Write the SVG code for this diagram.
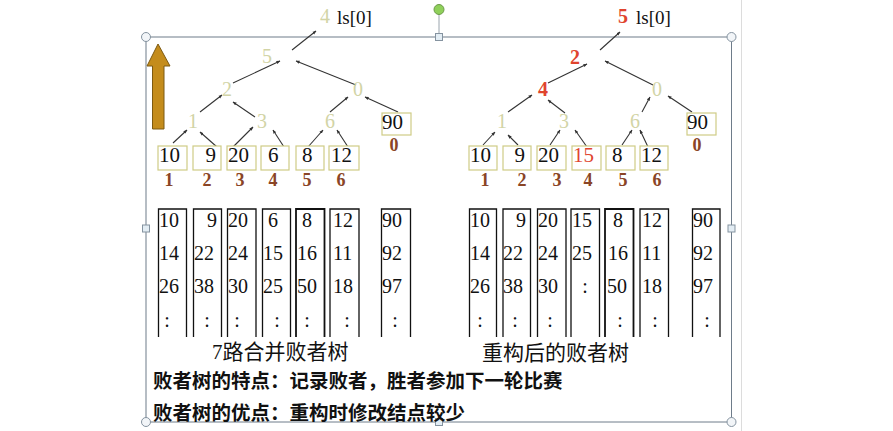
<svg xmlns="http://www.w3.org/2000/svg" width="893" height="431" viewBox="0 0 893 431">
<defs>
<marker id="ah" viewBox="0 0 10 10" refX="9" refY="5" markerWidth="4" markerHeight="4" orient="auto" markerUnits="userSpaceOnUse">
<path d="M0,1 L10,5 L0,9 z" fill="#333"/>
</marker>
<style>
.lt{font-family:"Liberation Serif",serif;font-size:20px;fill:#d2d4a6;text-anchor:middle}
.rd{font-family:"Liberation Serif",serif;font-size:20px;font-weight:bold;fill:#e0442e;text-anchor:middle}
.lb{font-family:"Liberation Serif",serif;font-size:19px;fill:#111}
.lf{font-family:"Liberation Serif",serif;font-size:21px;fill:#111}
.ix{font-family:"Liberation Serif",serif;font-size:18px;font-weight:bold;fill:#8a4526;text-anchor:middle}
.bx{fill:#fff;stroke:#cfcc86;stroke-width:1.2}
.col{fill:none;stroke:#111;stroke-width:1.3}
.ct{font-family:"Liberation Serif",serif;font-size:20px;fill:#111}
.cap{font-family:"Liberation Serif","Noto Sans CJK SC",serif;font-size:21px;fill:#111}
.bt{font-family:"Noto Sans CJK SC",sans-serif;font-size:19.5px;font-weight:bold;fill:#111}
.ed{stroke:#333;stroke-width:1.1;fill:none;marker-end:url(#ah)}
.fr{stroke:#6e7c8a;stroke-width:1;fill:none}
.hc{fill:#f2f5f8;stroke:#8593a0;stroke-width:1}
.hs{fill:#e3edf4;stroke:#8593a0;stroke-width:1}
</style>
</defs>
<rect width="893" height="431" fill="#fff"/>
<line x1="741.5" y1="0" x2="741.5" y2="431" stroke="#dcdcdc" stroke-width="1"/>

<g id="frame">
<rect class="fr" x="146" y="37" width="585.5" height="385"/>
<line x1="439" y1="14" x2="439" y2="33" stroke="#9aa4ad" stroke-width="1"/>
<circle cx="439" cy="9.5" r="5" fill="#8fd05a" stroke="#6c9a48"/>
<circle class="hc" cx="146" cy="37" r="4.5"/>
<circle class="hc" cx="731.5" cy="37" r="4.5"/>
<circle class="hc" cx="146" cy="422" r="4.5"/>
<circle class="hc" cx="731.5" cy="422" r="4.5"/>
<rect class="hs" x="435.5" y="33.5" width="7" height="7"/>
<rect class="hs" x="142.5" y="225" width="7" height="7"/>
<rect class="hs" x="728" y="225" width="7" height="7"/>
<rect class="hs" x="435.5" y="418.5" width="7" height="7"/>
</g>

<g id="up-arrow">
<polygon points="158,44 170,66 164,66 164,129 152.5,129 152.5,66 147,66" fill="#c48c1c" stroke="#7d5a12" stroke-width="1"/>
</g>

<g id="connectors">
<line class="ed" x1="292" y1="50" x2="316" y2="31"/>
<line class="ed" x1="233" y1="83" x2="280" y2="61"/>
<line class="ed" x1="356" y1="85" x2="296" y2="61"/>
<line class="ed" x1="200" y1="112" x2="222" y2="95"/>
<line class="ed" x1="255" y1="117" x2="233" y2="102"/>
<line class="ed" x1="330" y1="112" x2="348" y2="97"/>
<line class="ed" x1="398" y1="112" x2="365" y2="97"/>
<line class="ed" x1="173" y1="143" x2="187" y2="130"/>
<line class="ed" x1="217" y1="147" x2="200" y2="132"/>
<line class="ed" x1="233" y1="147" x2="253" y2="127"/>
<line class="ed" x1="284" y1="147" x2="273" y2="130"/>
<line class="ed" x1="308" y1="147" x2="323" y2="130"/>
<line class="ed" x1="348" y1="147" x2="337" y2="130"/>

<line class="ed" x1="600" y1="50" x2="620" y2="32"/>
<line class="ed" x1="548" y1="83" x2="587" y2="64"/>
<line class="ed" x1="653" y1="85" x2="605" y2="61"/>
<line class="ed" x1="508" y1="112" x2="532" y2="95"/>
<line class="ed" x1="565" y1="113" x2="548" y2="100"/>
<line class="ed" x1="642" y1="112" x2="650" y2="97"/>
<line class="ed" x1="692" y1="112" x2="668" y2="96"/>
<line class="ed" x1="483" y1="145" x2="495" y2="132"/>
<line class="ed" x1="518" y1="145" x2="508" y2="135"/>
<line class="ed" x1="550" y1="145" x2="560" y2="130"/>
<line class="ed" x1="587" y1="147" x2="575" y2="130"/>
<line class="ed" x1="622" y1="145" x2="632" y2="130"/>
<line class="ed" x1="648" y1="147" x2="640" y2="130"/>
</g>

<g id="left-tree">
<g id="L-top"><text class="lt" x="325" y="23">4</text><text class="lb" x="337" y="24">ls[0]</text></g>
<g id="L-n5"><text class="lt" x="267" y="63">5</text></g>
<g id="L-n2"><text class="lt" x="227" y="96">2</text></g>
<g id="L-n0"><text class="lt" x="358" y="96">0</text></g>
<g id="L-n1"><text class="lt" x="193" y="128">1</text></g>
<g id="L-n3"><text class="lt" x="262" y="128">3</text></g>
<g id="L-n6"><text class="lt" x="330" y="128">6</text></g>
<g id="L-b90"><rect class="bx" x="382" y="113" width="29" height="22"/><text class="lf" x="382" y="129">90</text><text class="ix" x="394" y="151">0</text></g>
<g id="L-b1"><rect class="bx" x="158" y="146" width="29" height="24"/><text class="lf" x="159" y="162">10</text><text class="ix" x="169" y="186">1</text></g>
<g id="L-b2"><rect class="bx" x="193" y="146" width="28" height="24"/><text class="lf" x="216" y="162" text-anchor="end">9</text><text class="ix" x="207" y="186">2</text></g>
<g id="L-b3"><rect class="bx" x="227" y="146" width="29" height="24"/><text class="lf" x="228" y="162">20</text><text class="ix" x="240" y="186">3</text></g>
<g id="L-b4"><rect class="bx" x="261" y="146" width="28" height="24"/><text class="lf" x="268" y="162">6</text><text class="ix" x="273" y="186">4</text></g>
<g id="L-b5"><rect class="bx" x="296" y="146" width="28" height="24"/><text class="lf" x="302" y="162">8</text><text class="ix" x="307" y="186">5</text></g>
<g id="L-b6"><rect class="bx" x="329" y="146" width="30" height="24"/><text class="lf" x="331" y="162">12</text><text class="ix" x="341" y="186">6</text></g>
</g>

<g id="right-tree">
<g id="R-top"><text class="rd" x="623" y="23">5</text><text class="lb" x="636" y="24">ls[0]</text></g>
<g id="R-n2"><text class="rd" x="575" y="64">2</text></g>
<g id="R-n4"><text class="rd" x="543" y="96">4</text></g>
<g id="R-n0"><text class="lt" x="657" y="96">0</text></g>
<g id="R-n1"><text class="lt" x="502" y="128">1</text></g>
<g id="R-n3"><text class="lt" x="564" y="128">3</text></g>
<g id="R-n6"><text class="lt" x="635" y="128">6</text></g>
<g id="R-b90"><rect class="bx" x="687" y="113" width="29" height="22"/><text class="lf" x="687" y="129">90</text><text class="ix" x="697" y="151">0</text></g>
<g id="R-b1"><rect class="bx" x="469" y="146" width="28" height="24"/><text class="lf" x="470" y="162">10</text><text class="ix" x="485" y="186">1</text></g>
<g id="R-b2"><rect class="bx" x="503" y="146" width="28" height="24"/><text class="lf" x="525" y="162" text-anchor="end">9</text><text class="ix" x="522" y="186">2</text></g>
<g id="R-b3"><rect class="bx" x="537" y="146" width="29" height="24"/><text class="lf" x="538" y="162">20</text><text class="ix" x="557" y="186">3</text></g>
<g id="R-b4"><rect class="bx" x="572" y="146" width="29" height="24"/><text class="lf" x="573" y="162" style="fill:#e0442e">15</text><text class="ix" x="588" y="186">4</text></g>
<g id="R-b5"><rect class="bx" x="606" y="146" width="29" height="24"/><text class="lf" x="612" y="162">8</text><text class="ix" x="623" y="186">5</text></g>
<g id="R-b6"><rect class="bx" x="640" y="146" width="28" height="24"/><text class="lf" x="641" y="162">12</text><text class="ix" x="657" y="186">6</text></g>
</g>

<g id="left-columns">
<g id="LC1"><path class="col" d="M158.5,337 V209 H186.5 V337"/><text class="ct" x="159" y="227">10</text><text class="ct" x="159" y="260">14</text><text class="ct" x="159" y="293">26</text><text class="ct" x="167" y="327" text-anchor="middle">:</text></g>
<g id="LC2"><path class="col" d="M193.5,337 V209 H221.5 V337"/><text class="ct" x="217" y="227" text-anchor="end">9</text><text class="ct" x="194" y="260">22</text><text class="ct" x="194" y="293">38</text><text class="ct" x="207" y="327" text-anchor="middle">:</text></g>
<g id="LC3"><path class="col" d="M227.5,337 V209 H256 V337"/><text class="ct" x="228" y="227">20</text><text class="ct" x="228" y="260">24</text><text class="ct" x="228" y="293">30</text><text class="ct" x="237" y="327" text-anchor="middle">:</text></g>
<g id="LC4"><path class="col" d="M262.5,337 V209 H290.5 V337"/><text class="ct" x="268" y="227">6</text><text class="ct" x="263" y="260">15</text><text class="ct" x="263" y="293">25</text><text class="ct" x="277" y="327" text-anchor="middle">:</text></g>
<g id="LC5"><path class="col" d="M296,337 V209 H324.5 V337" style="stroke-width:1.8"/><text class="ct" x="307" y="227" text-anchor="middle">8</text><text class="ct" x="307" y="260" text-anchor="middle">16</text><text class="ct" x="307" y="293" text-anchor="middle">50</text><text class="ct" x="307" y="327" text-anchor="middle">:</text></g>
<g id="LC6"><path class="col" d="M330,337 V209 H359 V337"/><text class="ct" x="333" y="227">12</text><text class="ct" x="333" y="260">11</text><text class="ct" x="333" y="293">18</text><text class="ct" x="347" y="327" text-anchor="middle">:</text></g>
<g id="LC7"><path class="col" d="M381.5,337 V209 H410.5 V337"/><text class="ct" x="382" y="227">90</text><text class="ct" x="382" y="260">92</text><text class="ct" x="382" y="293">97</text><text class="ct" x="395" y="327" text-anchor="middle">:</text></g>
</g>

<g id="right-columns">
<g id="RC1"><path class="col" d="M469.5,337 V209 H496.5 V337"/><text class="ct" x="470" y="227">10</text><text class="ct" x="470" y="260">14</text><text class="ct" x="470" y="293">26</text><text class="ct" x="480" y="327" text-anchor="middle">:</text></g>
<g id="RC2"><path class="col" d="M503,337 V209 H530.5 V337"/><text class="ct" x="526" y="227" text-anchor="end">9</text><text class="ct" x="503" y="260">22</text><text class="ct" x="503" y="293">38</text><text class="ct" x="515" y="327" text-anchor="middle">:</text></g>
<g id="RC3"><path class="col" d="M537.5,337 V209 H566 V337"/><text class="ct" x="538" y="227">20</text><text class="ct" x="538" y="260">24</text><text class="ct" x="538" y="293">30</text><text class="ct" x="550" y="327" text-anchor="middle">:</text></g>
<g id="RC4"><path class="col" d="M571,337 V209 H599.5 V337"/><text class="ct" x="572" y="227">15</text><text class="ct" x="572" y="260">25</text><text class="ct" x="585" y="293" text-anchor="middle">:</text></g>
<g id="RC5"><path class="col" d="M605,337 V209 H633.5 V337" style="stroke-width:1.8"/><text class="ct" x="618" y="227" text-anchor="middle">8</text><text class="ct" x="618" y="260" text-anchor="middle">16</text><text class="ct" x="617" y="293" text-anchor="middle">50</text><text class="ct" x="620" y="327" text-anchor="middle">:</text></g>
<g id="RC6"><path class="col" d="M640,337 V209 H668.5 V337"/><text class="ct" x="642" y="227">12</text><text class="ct" x="642" y="260">11</text><text class="ct" x="642" y="293">18</text><text class="ct" x="655" y="327" text-anchor="middle">:</text></g>
<g id="RC7"><path class="col" d="M692.5,337 V209 H720 V337"/><text class="ct" x="693" y="227">90</text><text class="ct" x="693" y="260">92</text><text class="ct" x="693" y="293">97</text><text class="ct" x="707" y="327" text-anchor="middle">:</text></g>
</g>

<g id="captions">
<text class="cap" x="212" y="359">7路合并败者树</text>
<text class="cap" x="482" y="360">重构后的败者树</text>
<text class="bt" x="153" y="388">败者树的特点：记录败者，胜者参加下一轮比赛</text>
<text class="bt" x="153" y="420">败者树的优点：重构时修改结点较少</text>
</g>
</svg>
